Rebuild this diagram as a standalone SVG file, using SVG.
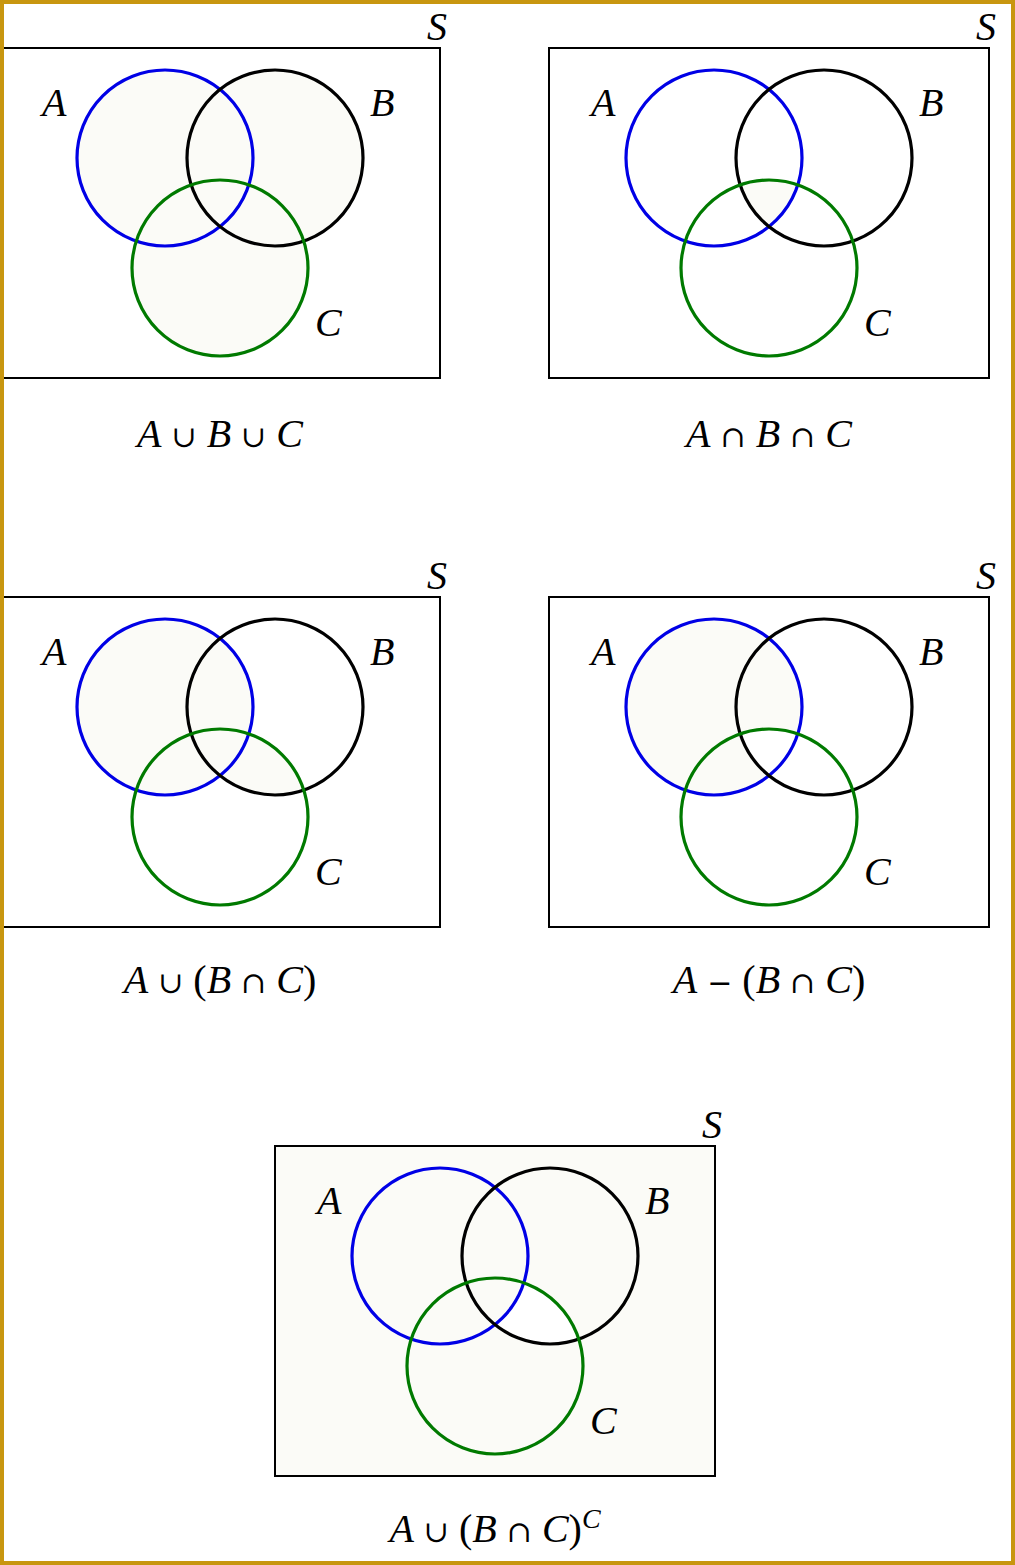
<svg xmlns="http://www.w3.org/2000/svg" width="1015" height="1565" viewBox="0 0 1015 1565">
<style>
.box{fill:none;stroke:#000;stroke-width:2}
.ca{fill:none;stroke:#0000e6;stroke-width:3.2}
.cb{fill:none;stroke:#000;stroke-width:3.2}
.cc{fill:none;stroke:#007a00;stroke-width:3.2}
.sh{fill:#fbfbf7}
.wh{fill:#fff}
.lab{font-style:italic;font-size:40px;fill:#000}
.cap{font-size:40px;fill:#000}
.it{font-style:italic}
.op{font-family:"DejaVu Serif",serif;font-size:30px}
</style>
<defs>
<clipPath id="clipA"><circle cx="165" cy="110" r="88"/></clipPath>
<clipPath id="clipB"><circle cx="275" cy="110" r="88"/></clipPath>
<clipPath id="clipC"><circle cx="220" cy="220" r="88"/></clipPath>
<g id="labels" font-family="Liberation Serif, DejaVu Serif, serif">
<text class="lab" x="42" y="68">A</text>
<text class="lab" x="370" y="68">B</text>
<text class="lab" x="315" y="288">C</text>
<text class="lab" x="427" y="-8">S</text>
</g>
<g id="circles">
<circle class="ca" cx="165" cy="110" r="88"/>
<circle class="cb" cx="275" cy="110" r="88"/>
<circle class="cc" cx="220" cy="220" r="88"/>
</g>
</defs>
<rect x="0" y="0" width="1015" height="1565" fill="#fff"/>

<g id="d1" transform="translate(0,48)">
<circle class="sh" cx="165" cy="110" r="88"/>
<circle class="sh" cx="275" cy="110" r="88"/>
<circle class="sh" cx="220" cy="220" r="88"/>
<rect class="box" x="0" y="0" width="440" height="330"/>
<use href="#circles"/>
<use href="#labels"/>
<text class="cap" font-family="Liberation Serif, DejaVu Serif, serif" x="220" y="399" text-anchor="middle"><tspan class="it">A</tspan> <tspan class="op">∪</tspan> <tspan class="it">B</tspan> <tspan class="op">∪</tspan> <tspan class="it">C</tspan></text>
</g>

<g id="d2" transform="translate(549,48)">
<g clip-path="url(#clipA)"><g clip-path="url(#clipB)"><circle class="sh" cx="220" cy="220" r="88"/></g></g>
<rect class="box" x="0" y="0" width="440" height="330"/>
<use href="#circles"/>
<use href="#labels"/>
<text class="cap" font-family="Liberation Serif, DejaVu Serif, serif" x="220" y="399" text-anchor="middle"><tspan class="it">A</tspan> <tspan class="op">∩</tspan> <tspan class="it">B</tspan> <tspan class="op">∩</tspan> <tspan class="it">C</tspan></text>
</g>

<g id="d3" transform="translate(0,597)">
<circle class="sh" cx="165" cy="110" r="88"/>
<g clip-path="url(#clipB)"><circle class="sh" cx="220" cy="220" r="88"/></g>
<rect class="box" x="0" y="0" width="440" height="330"/>
<use href="#circles"/>
<use href="#labels"/>
<text class="cap" font-family="Liberation Serif, DejaVu Serif, serif" x="220" y="396" text-anchor="middle"><tspan class="it">A</tspan> <tspan class="op">∪</tspan> (<tspan class="it">B</tspan> <tspan class="op">∩</tspan> <tspan class="it">C</tspan>)</text>
</g>

<g id="d4" transform="translate(549,597)">
<circle class="sh" cx="165" cy="110" r="88"/>
<g clip-path="url(#clipB)"><circle class="wh" cx="220" cy="220" r="88"/></g>
<rect class="box" x="0" y="0" width="440" height="330"/>
<use href="#circles"/>
<use href="#labels"/>
<text class="cap" font-family="Liberation Serif, DejaVu Serif, serif" x="220" y="396" text-anchor="middle"><tspan class="it">A</tspan> <tspan class="op">−</tspan> (<tspan class="it">B</tspan> <tspan class="op">∩</tspan> <tspan class="it">C</tspan>)</text>
</g>

<g id="d5" transform="translate(275,1146)">
<rect class="sh" x="0" y="0" width="440" height="330"/>
<g clip-path="url(#clipB)"><circle class="wh" cx="220" cy="220" r="88"/></g>
<circle class="sh" cx="165" cy="110" r="88"/>
<rect class="box" x="0" y="0" width="440" height="330"/>
<use href="#circles"/>
<use href="#labels"/>
<text class="cap" font-family="Liberation Serif, DejaVu Serif, serif" x="220" y="396" text-anchor="middle"><tspan class="it">A</tspan> <tspan class="op">∪</tspan> (<tspan class="it">B</tspan> <tspan class="op">∩</tspan> <tspan class="it">C</tspan>)<tspan class="it" font-size="28" dy="-14">C</tspan></text>
</g>

<rect x="2" y="2" width="1011" height="1561" fill="none" stroke="#c8960f" stroke-width="4"/>
</svg>
